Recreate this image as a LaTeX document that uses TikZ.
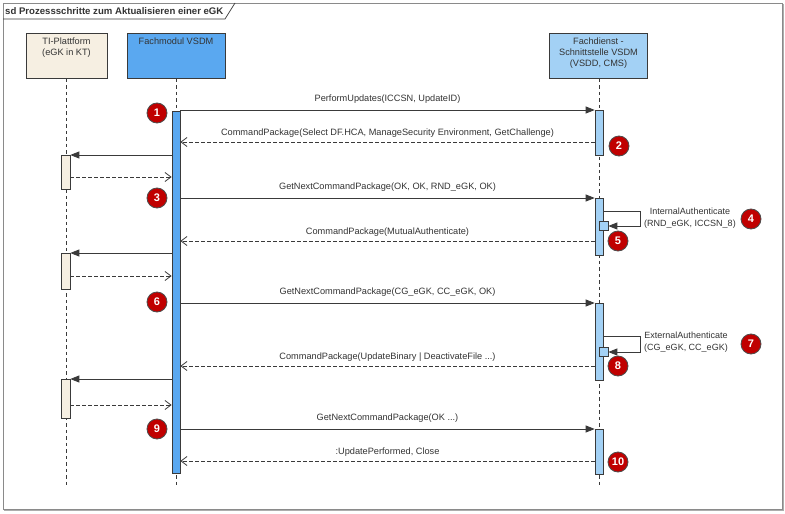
\documentclass[tikz,border=0pt]{standalone}
\usepackage{fontspec}
\setmainfont{Liberation Sans}
\usetikzlibrary{arrows.meta}
\definecolor{lnc}{HTML}{3A3A3A}
\definecolor{txc}{HTML}{333333}
\definecolor{fmblue}{HTML}{5AA8F0}
\definecolor{fdblue}{HTML}{A3D1F5}
\definecolor{tibeige}{HTML}{F6EFE2}
\definecolor{badgered}{HTML}{C00000}
\definecolor{framec}{HTML}{8A8A8A}
\tikzset{
  headbox/.style={draw=lnc, line width=0.8pt, minimum width=98pt, minimum height=45pt, inner sep=0pt},
  headtext/.style={anchor=north, align=center, font=\fontsize{9.2}{11}\selectfont, text=txc, inner sep=0pt},
  actbox/.style={draw=lnc, line width=0.7pt, minimum width=8pt, inner sep=0pt},
  nestbox/.style={draw=lnc, line width=0.7pt, minimum width=9pt, minimum height=9pt, inner sep=0pt, fill=fdblue},
  lifeline/.style={draw=lnc, line width=0.7pt, dash pattern=on 3.5pt off 3pt},
  call/.style={draw=lnc, line width=0.8pt, -{Triangle[length=9pt,width=7pt]}},
  reply/.style={draw=lnc, line width=0.8pt, dash pattern=on 3.5pt off 2.5pt, -{Straight Barb[length=6pt,width=9pt]}},
  msglabel/.style={font=\fontsize{9.2}{10}\selectfont, text=txc, inner sep=1.5pt},
  badge/.style={circle, fill=badgered, draw=black!70, line width=0.8pt, minimum size=20pt, inner sep=0pt, text=white, font=\fontsize{11}{12}\selectfont\bfseries},
}
\begin{document}
\begin{tikzpicture}[x=1pt,y=-1pt]
\useasboundingbox (0,0) rectangle (785,514);
\fill[white] (0,0) rectangle (785,514);
% frame
\draw[framec, line width=1pt] (3,3) rectangle (782,509);
\draw[framec!70, line width=1pt] (4,510.5) -- (783.5,510.5) -- (783.5,4);
\draw[lnc, line width=0.7pt] (3,19) -- (225,19) -- (235,3);
\node[anchor=west, font=\fontsize{9.6}{10}\selectfont\bfseries, text=txc, inner sep=0pt] (title) at (5,11) {sd Prozessschritte zum Aktualisieren einer eGK};

% lifeline heads
\node[headbox, fill=tibeige, minimum width=81pt, anchor=north] (TI) at (66.5,33) {};
\node[headtext] (TIt) at ([yshift=-4.5pt]TI.north) {TI-Plattform\\(eGK in KT)};
\node[headbox, fill=fmblue, anchor=north] (FM) at (176,33) {};
\node[headtext] (FMt) at ([yshift=-4.5pt]FM.north) {Fachmodul VSDM};
\node[headbox, fill=fdblue, anchor=north] (FD) at (598.5,33) {};
\node[headtext] (FDt) at ([yshift=-4.5pt]FD.north) {Fachdienst -\\Schnittstelle VSDM\\(VSDD, CMS)};

% lifelines
\coordinate (TIend) at (66,487);
\coordinate (FMend) at (176,487);
\coordinate (FDend) at (599,487);
\draw[lifeline] (TI.south -| TIend) -- (TIend);
\draw[lifeline] (FM.south -| FMend) -- (FMend);
\draw[lifeline] (FD.south -| FDend) -- (FDend);

% activations
\node[actbox, fill=fmblue, minimum height=362pt] (FMa) at (176,292) {};
\node[actbox, fill=fdblue, minimum height=45pt] (FD1) at (599,132.5) {};
\node[actbox, fill=fdblue, minimum height=57pt] (FD2) at (599,226.5) {};
\node[actbox, fill=fdblue, minimum height=77pt] (FD3) at (599,341.5) {};
\node[actbox, fill=fdblue, minimum height=45pt] (FD4) at (599,451.5) {};
\node[nestbox] (FDn1) at (603.5,226) {};
\node[nestbox] (FDn2) at (603.5,352) {};
\node[actbox, fill=tibeige, minimum width=9pt, minimum height=34pt] (TI1) at (65.5,172) {};
\node[actbox, fill=tibeige, minimum width=9pt, minimum height=36pt] (TI2) at (65.5,271) {};
\node[actbox, fill=tibeige, minimum width=9pt, minimum height=39pt] (TI3) at (65.5,398.5) {};

% messages
\draw[call] (FMa.east |- 0,110) -- node[msglabel, above=5pt, midway] {PerformUpdates(ICCSN, UpdateID)} (FD1.west |- 0,110);
\draw[reply] (FD1.west |- 0,142) -- node[msglabel, above=3pt, midway] {CommandPackage(Select DF.HCA, ManageSecurity Environment, GetChallenge)} (FMa.east |- 0,142);
\draw[call] (FMa.west |- 0,155) -- (TI1.east |- 0,155);
\draw[reply] (TI1.east |- 0,177) -- (FMa.west |- 0,177);
\draw[call] (FMa.east |- 0,198) -- node[msglabel, above=5pt, midway] {GetNextCommandPackage(OK, OK, RND\_eGK, OK)} (FD2.west |- 0,198);
\coordinate (s1a) at (640,211);
\coordinate (s1b) at (640,226);
\draw[call] (FD2.east |- s1a) -- (s1a) -- (s1b) -- (FDn1.east);
\node[msglabel, align=center, font=\fontsize{9}{11.5}\selectfont] (lab4) at (690,218) {InternalAuthenticate\\(RND\_eGK, ICCSN\_8)};
\draw[reply] (FD2.west |- 0,241) -- node[msglabel, above=3pt, midway] {CommandPackage(MutualAuthenticate)} (FMa.east |- 0,241);
\draw[call] (FMa.west |- 0,253) -- (TI2.east |- 0,253);
\draw[reply] (TI2.east |- 0,276) -- (FMa.west |- 0,276);
\draw[call] (FMa.east |- 0,303) -- node[msglabel, above=5pt, midway] {GetNextCommandPackage(CG\_eGK, CC\_eGK, OK)} (FD3.west |- 0,303);
\coordinate (s2a) at (640,336);
\coordinate (s2b) at (640,352);
\draw[call] (FD3.east |- s2a) -- (s2a) -- (s2b) -- (FDn2.east);
\node[msglabel, align=center, font=\fontsize{9}{11.5}\selectfont] (lab7) at (686,342) {ExternalAuthenticate\\(CG\_eGK, CC\_eGK)};
\draw[reply] (FD3.west |- 0,366) -- node[msglabel, above=3pt, midway] {CommandPackage(UpdateBinary | DeactivateFile ...)} (FMa.east |- 0,366);
\draw[call] (FMa.west |- 0,379) -- (TI3.east |- 0,379);
\draw[reply] (TI3.east |- 0,405) -- (FMa.west |- 0,405);
\draw[call] (FMa.east |- 0,429) -- node[msglabel, above=5pt, midway] {GetNextCommandPackage(OK ...)} (FD4.west |- 0,429);
\draw[reply] (FD4.west |- 0,461) -- node[msglabel, above=3pt, midway] {:UpdatePerformed, Close} (FMa.east |- 0,461);

% badges
\node[badge] (b1) at (157,113) {1};
\node[badge] (b2) at (619,146) {2};
\node[badge] (b3) at (157,198) {3};
\node[badge] (b4) at (751,219) {4};
\node[badge] (b5) at (618,241) {5};
\node[badge] (b6) at (157,302) {6};
\node[badge] (b7) at (751,344) {7};
\node[badge] (b8) at (618,366) {8};
\node[badge] (b9) at (157,429) {9};
\node[badge] (b10) at (618,462) {10};
\end{tikzpicture}
\end{document}
